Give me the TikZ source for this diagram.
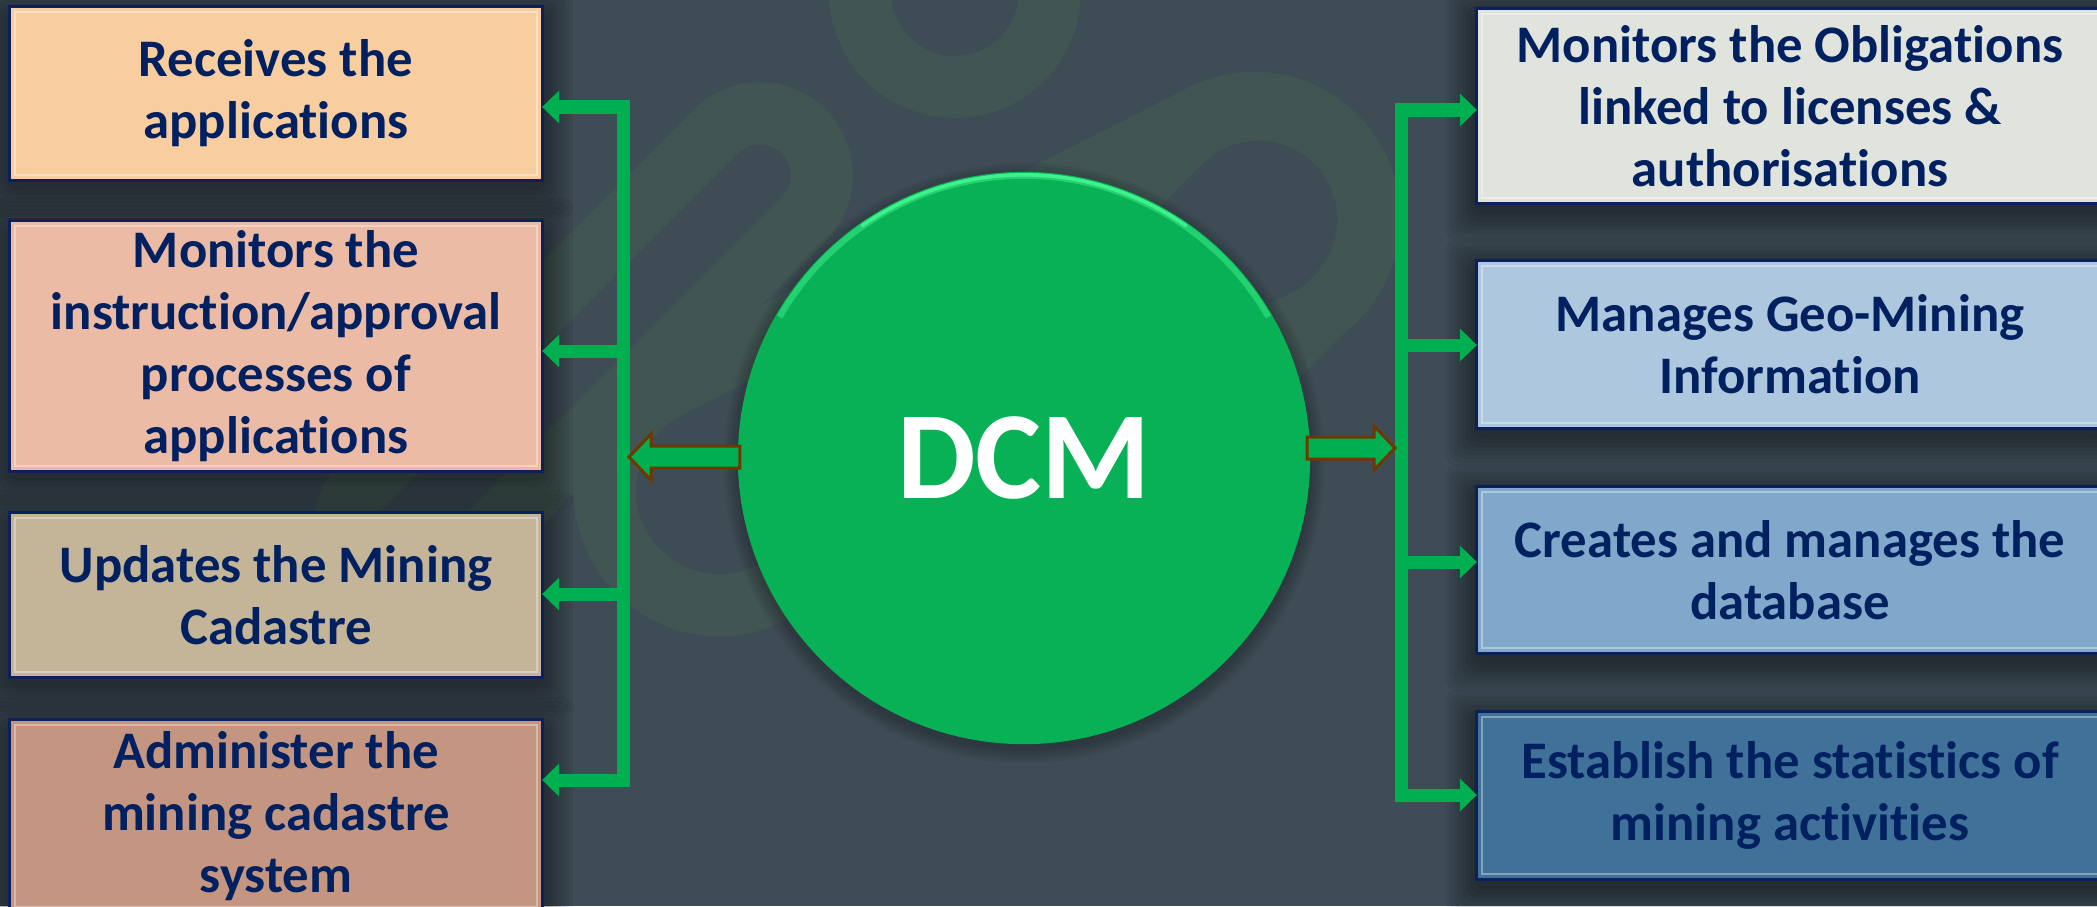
\documentclass[tikz,border=0pt]{standalone}
\usepackage{fontspec}
\setmainfont{Carlito}[Ligatures=NoCommon]
\usetikzlibrary{arrows.meta,calc}
\definecolor{bgc}{RGB}{62,76,86}
\definecolor{wmc}{RGB}{65,85,82}
\definecolor{navy}{RGB}{0,32,96}
\definecolor{boxline}{RGB}{12,32,92}
\definecolor{cLa}{RGB}{248,206,160}
\definecolor{cLb}{RGB}{236,187,166}
\definecolor{cLc}{RGB}{196,181,152}
\definecolor{cLd}{RGB}{196,149,128}
\definecolor{cRa}{RGB}{224,228,220}
\definecolor{cRb}{RGB}{173,200,222}
\definecolor{cRc}{RGB}{127,168,203}
\definecolor{cRd}{RGB}{63,113,153}
\definecolor{dgreen}{RGB}{0,176,80}
\definecolor{circg}{RGB}{8,176,86}
\definecolor{lightg}{RGB}{70,250,145}
\definecolor{brownc}{RGB}{112,56,0}
\pgfdeclarelayer{back}
\pgfdeclarelayer{shade}
\pgfsetlayers{back,shade,main}
\newcommand{\wmlink}[5]{\draw[wm, shift={(#1,#2)}, rotate=#3] (-#4,-#5) -- (#4,-#5) arc[start angle=-90,end angle=90,radius=#5] -- (-#4,#5) arc[start angle=90,end angle=270,radius=#5] -- cycle;}
\begin{document}
\begin{tikzpicture}[x=0.01cm,y=-0.01cm,
  infobox/.style={draw=boxline, line width=0.03cm, inner sep=0pt, outer sep=0pt, align=center,
    text=navy, font=\fontsize{15}{17.6}\selectfont\bfseries},
  leftbox/.style={infobox, minimum width=5.32cm},
  rightbox/.style={infobox, minimum width=6.26cm},
  bus/.style={draw=dgreen, line width=0.13cm, line join=miter},
  tipend/.style={-{Triangle[length=0.17cm,width=0.32cm]}},
  tipboth/.style={{Triangle[length=0.17cm,width=0.32cm]}-{Triangle[length=0.17cm,width=0.32cm]}},
  blockarr/.style={fill=dgreen, draw=brownc, line width=0.03cm, line join=miter},
  wm/.style={draw=wmc, line width=0.62cm},
  bevel/.style={draw=white, opacity=0.35, line width=0.025cm},
  hub/.style={circle, fill=circg, minimum size=5.72cm, inner sep=0pt, outer sep=0pt,
    text=white, font=\fontsize{35.5}{40}\selectfont\bfseries}
]
\useasboundingbox (0,0) rectangle (2097,906);
\begin{pgfonlayer}{back}
  \fill[bgc] (0,0) rectangle (2097,906);
  \wmlink{583}{352}{45}{250}{62}
  \wmlink{987}{354}{27}{300}{115}
  \wmlink{955}{-200}{90}{192}{95}
  \wmlink{1117}{361}{45}{200}{110}
\end{pgfonlayer}

% boxes
\node[leftbox, fill=cLa, minimum height=1.73cm] (L1) at (276,93.5) {Receives the\\applications};
\node[leftbox, fill=cLb, minimum height=2.50cm] (L2) at (276,346) {Monitors the\\instruction/approval\\processes of\\applications};
\node[leftbox, fill=cLc, minimum height=1.64cm] (L3) at (276,595) {Updates the Mining\\Cadastre};
\node[leftbox, fill=cLd, minimum height=1.92cm] (L4) at (276,816) {Administer the\\mining cadastre\\system};
\node[rightbox, fill=cRa, minimum height=1.94cm] (R1) at (1790,106) {Monitors the Obligations\\linked to licenses \&\\authorisations};
\node[rightbox, fill=cRb, minimum height=1.67cm] (R2) at (1790,344.5) {Manages Geo-Mining\\Information};
\node[rightbox, fill=cRc, minimum height=1.66cm] (R3) at (1790,570) {Creates and manages the\\database};
\node[rightbox, fill=cRd, minimum height=1.67cm] (R4) at (1790,795.5) {Establish the statistics of\\mining activities};

% hub
\node[hub] (C) at (1024,458) {DCM};

% shadows
\begin{pgfonlayer}{shade}
  \foreach \n in {L1,L2,L3,L4,R1,R2,R3,R4} {
    \foreach \k in {3,7,...,31} {
      \fill[black, opacity=0.055, rounded corners=0.12cm]
        ([shift={(-\k,-\k+8)}]\n.north west) rectangle ([shift={(\k,\k+8)}]\n.south east);
    }
  }
  \foreach \k in {2,5,...,14} {
    \fill[black, opacity=0.05] ($(C.center)+(0,5)$) circle[radius=286+\k];
  }
\end{pgfonlayer}

% bevels
\foreach \n in {L1,L2,L3,L4,R1,R2,R3,R4} {
  \draw[bevel] ([shift={(5,5)}]\n.north west) rectangle ([shift={(-5,-5)}]\n.south east);
}

% hub highlight
\draw[lightg, opacity=0.45, line width=0.06cm] (C.center) ++(150:2.82cm) arc[start angle=150, end angle=30, radius=2.82cm];
\draw[lightg, opacity=0.8, line width=0.035cm] (C.center) ++(125:2.83cm) arc[start angle=125, end angle=55, radius=2.83cm];

% left bus
\coordinate (lb1) at (623,107);
\coordinate (lb2) at (623,351);
\coordinate (lb3) at (623,594);
\coordinate (lb4) at (623,780);
\draw[bus, tipboth] (lb1 -| L1.east) -- (lb1) -- (lb4) -- (lb4 -| L4.east);
\draw[bus, tipend] (lb2) -- (lb2 -| L2.east);
\draw[bus, tipend] (lb3) -- (lb3 -| L3.east);

% right bus
\coordinate (rb1) at (1401,110);
\coordinate (rb2) at (1401,345);
\coordinate (rb3) at (1401,562);
\coordinate (rb4) at (1401,795);
\draw[bus, tipboth] (rb1 -| R1.west) -- (rb1) -- (rb4) -- (rb4 -| R4.west);
\draw[bus, tipend] (rb2) -- (rb2 -| R2.west);
\draw[bus, tipend] (rb3) -- (rb3 -| R3.west);

% block arrows from hub to buses
\coordinate (la) at (629,457);
\coordinate (ra) at (1395,448);
\draw[blockarr] (la) -- ++(22,-23) -- ++(0,12) -- ($(C.west |- la)+(2,-11)$) -- ++(0,22) -- ($(la)+(22,11)$) -- ++(0,12) -- cycle;
\draw[blockarr] (ra) -- ++(-21,-22) -- ++(0,11) -- ($(C.east |- ra)+(-3,-11)$) -- ++(0,22) -- ($(ra)+(-21,11)$) -- ++(0,11) -- cycle;
\end{tikzpicture}
\end{document}
